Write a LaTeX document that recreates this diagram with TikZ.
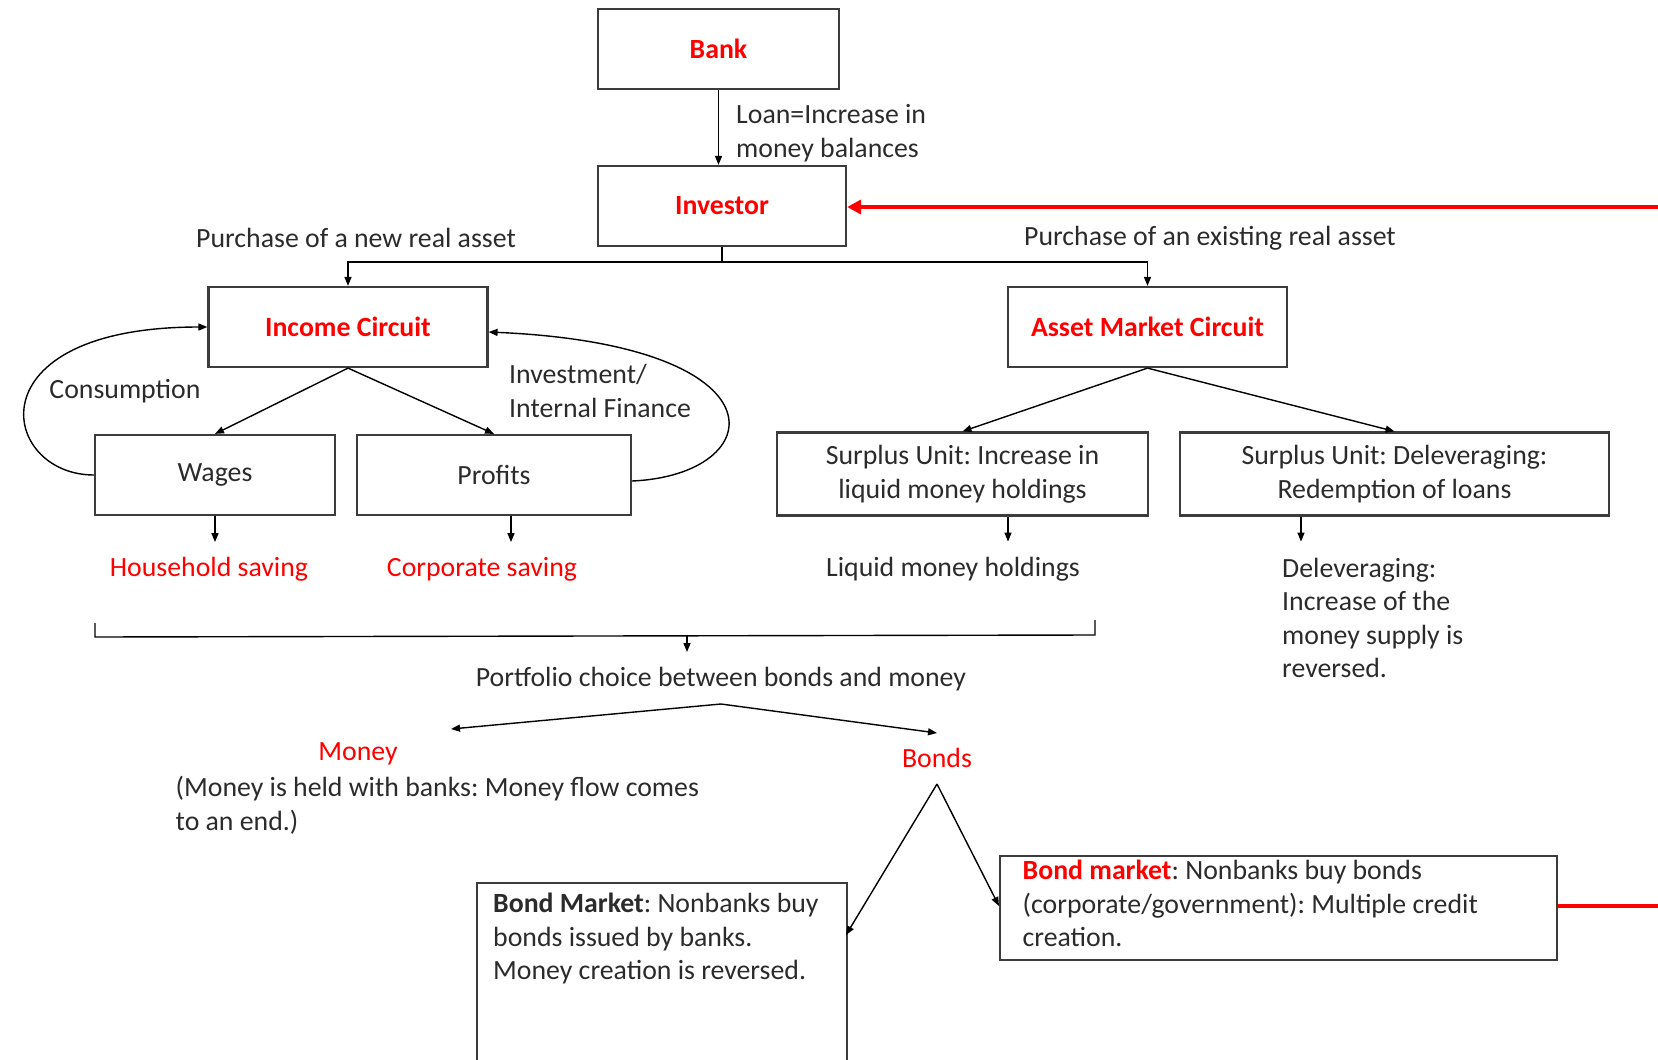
\documentclass[tikz,border=0pt]{standalone}
\usepackage{fontspec}
\setmainfont{Carlito}
\usetikzlibrary{arrows.meta}
\definecolor{boxgray}{HTML}{3C3C3C}
\definecolor{txt}{HTML}{2B2B2B}
\definecolor{redc}{HTML}{FF0000}
\newcommand\dfont{\fontsize{27.8}{33.6}\selectfont}
\frenchspacing
\begin{document}
\frenchspacing
\begin{tikzpicture}[x=1pt,y=-1pt,
  box/.style={draw=boxgray, line width=2.2pt, fill=white, inner sep=0pt, font=\dfont, text=txt, align=center},
  lbl/.style={inner sep=0pt, font=\dfont, text=txt},
  redlbl/.style={inner sep=0pt, font=\dfont, text=redc},
  conn/.style={draw=black, line width=1.4pt},
  arr/.style={conn, -{Triangle[length=9pt,width=7pt]}},
  redline/.style={draw=redc, line width=4.5pt},
  redarr/.style={redline, -{Triangle[length=14pt,width=14pt]}},
]
\useasboundingbox (0,0) rectangle (1658,1060);
\clip (0,0) rectangle (1658,1060);

% boxes
\node[box, minimum width=241pt, minimum height=80pt] (bank) at (718.5,49) {\textcolor{redc}{\bfseries Bank}};
\node[box, minimum width=248pt, minimum height=80pt] (inv) at (722,206) {\textcolor{redc}{\bfseries Investor}};
\node[box, minimum width=279pt, minimum height=80pt] (ic) at (348,327) {\textcolor{redc}{\bfseries Income Circuit}};
\node[box, minimum width=279pt, minimum height=80pt] (amc) at (1147.5,327) {\textcolor{redc}{\bfseries Asset Market Circuit}};
\node[box, minimum width=240pt, minimum height=80pt] (wages) at (215,475) {Wages};
\node[box, minimum width=274pt, minimum height=80pt] (profits) at (494,475) {Profits};
\node[box, minimum width=371pt, minimum height=83pt] (sl) at (962.5,474) {Surplus Unit: Increase in\\liquid money holdings};
\node[box, minimum width=429pt, minimum height=83pt] (sr) at (1394.5,474) {Surplus Unit: Deleveraging:\\Redemption of loans};
\node[box, anchor=north west, minimum width=370pt, minimum height=300pt] (bondL) at (476,882) {};
\node[box, anchor=west, minimum width=557pt, minimum height=104pt] (bondR) at (999,908) {};

% labels
\node[lbl, anchor=west, align=left] (loan) at (736,133) {Loan=Increase in\\money balances};
\node[lbl] (pnew) at (356,238) {Purchase of a new real asset};
\node[lbl] (pex) at (1210,238) {Purchase of an existing real asset};
\node[lbl] (cons) at (125,391) {Consumption};
\node[lbl, anchor=west, align=left] (invfin) at (509,391) {Investment/\\Internal Finance};
\node[redlbl] (hs) at (209,569) {Household saving};
\node[redlbl] (cs) at (482,569) {Corporate saving};
\node[lbl] (liq) at (953,569) {Liquid money holdings};
\node[lbl, anchor=west, align=left] (delev) at (1282,618) {Deleveraging:\\Increase of the\\money supply is\\reversed.};
\node[lbl] (port) at (721,679) {Portfolio choice between bonds and money};
\node[redlbl] (money) at (358,754) {Money};
\node[lbl, anchor=west, align=left] (moneytxt) at (175.5,805) {(Money is held with banks: Money flow comes\\to an end.)};
\node[redlbl] (bonds) at (937,758) {Bonds};
\node[lbl, anchor=west, align=left] (bondLtxt) at (493,938.5) {\textbf{Bond Market}: Nonbanks buy\\bonds issued by banks.\\Money creation is reversed.};
\node[lbl, anchor=west, align=left] (bondRtxt) at (1022.5,903.5) {{\color{redc}\bfseries Bond market}: Nonbanks buy bonds\\(corporate/government): Multiple credit\\creation.};

% coordinates
\coordinate (split) at (722,262);
\coordinate (redR) at (1665,207);
\coordinate (redR2) at (1665,906);
\coordinate (bl) at (95,623);
\coordinate (blc) at (95,637);
\coordinate (brc) at (1095,635);
\coordinate (br) at (1095,620);
\coordinate (bmid) at (687,636);
\coordinate (peak) at (721,704);
\coordinate (mtip) at (451,729);
\coordinate (btip) at (937,733);
\coordinate (bpeak) at (937,784);
\coordinate (bLin) at (846,935);

% connectors
\draw[arr] (bank.south) -- (bank.south |- inv.north);
\draw[redarr] (redR) -- (inv.east |- redR);
\draw[conn] (inv.south) -- (split);
\draw[arr] (split) -| (ic.north);
\draw[arr] (split) -| (amc.north);
\draw[arr] (ic.south) -- (wages.north);
\draw[arr] (ic.south) -- (profits.north);
\draw[arr] (wages.west) .. controls (0,475) and (-30,327) .. (ic.west);
\draw[arr] ([yshift=-6pt]profits.east) .. controls (770,475) and (790,345) .. ([yshift=-5pt]ic.east);
\draw[arr] (wages.south) -- ++(0,26);
\draw[arr] ([xshift=17pt]profits.south) -- ++(0,26);
\draw[arr] (amc.south) -- (sl.north);
\draw[arr] (amc.south) -- (sr.north);
\draw[arr] ([xshift=45.5pt]sl.south) -- ++(0,25);
\draw[arr] ([xshift=-93.5pt]sr.south) -- ++(0,25);
\draw[conn] (bl) -- (blc) -- (brc) -- (br);
\draw[arr] (bmid) -- ++(0,16);
\draw[arr] (peak) -- (mtip);
\draw[arr] (peak) -- (btip);
\draw[arr] (bpeak) -- (bLin);
\draw[arr] (bpeak) -- ([yshift=2pt]bondR.west);
\draw[redline] ([yshift=2pt]bondR.east) -- (redR2);
\end{tikzpicture}
\end{document}
